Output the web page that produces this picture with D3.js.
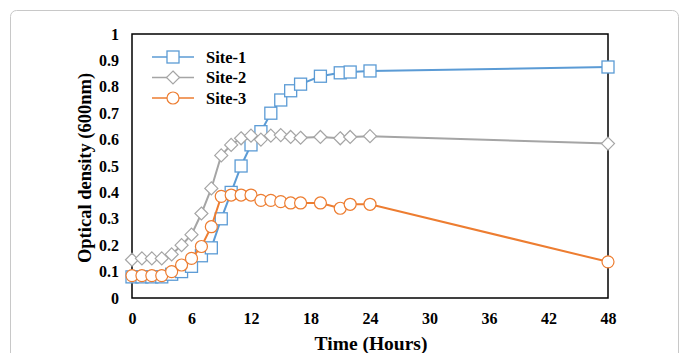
<!DOCTYPE html>
<html>
<head>
<meta charset="utf-8">
<script src="https://cdn.jsdelivr.net/npm/d3@7"></script>
<style>
  body { margin: 0; background: #fff; }
  text { font-family: "Liberation Serif", "Times New Roman", serif; font-weight: bold; }
</style>
</head>
<body>
<div id="chart"></div>
<script>
var hours = [0, 1, 2, 3, 4, 5, 6, 7, 8, 9, 10, 11, 12, 13, 14, 15, 16, 17, 19, 21, 22, 24, 48]
var site1 = [0.08, 0.08, 0.08, 0.08, 0.09, 0.10, 0.12, 0.16, 0.19, 0.30, 0.40, 0.50, 0.58, 0.63, 0.70, 0.75, 0.785, 0.81, 0.84, 0.853, 0.856, 0.86, 0.875]
var site2 = [0.145, 0.15, 0.15, 0.15, 0.165, 0.20, 0.24, 0.32, 0.415, 0.54, 0.58, 0.605, 0.615, 0.60, 0.615, 0.617, 0.61, 0.607, 0.61, 0.605, 0.61, 0.613, 0.585]
var site3 = [0.085, 0.085, 0.085, 0.085, 0.10, 0.125, 0.15, 0.195, 0.27, 0.385, 0.39, 0.39, 0.39, 0.37, 0.37, 0.365, 0.36, 0.36, 0.36, 0.34, 0.355, 0.355, 0.137]
var seriesNames = ['Site-1', 'Site-2', 'Site-3']
var seriesColors = ['#5b9bd5', '#a5a5a5', '#ed7d31']
var seriesShapes = ['square', 'diamond', 'circle']
var xTicks = [0, 6, 12, 18, 24, 30, 36, 42, 48]
var yTicks = [0, 0.1, 0.2, 0.3, 0.4, 0.5, 0.6, 0.7, 0.8, 0.9, 1]

var W = 683, H = 353
var margin = {top: 34, right: 75, bottom: 55, left: 132}
var width = W - margin.left - margin.right
var height = H - margin.top - margin.bottom

var svg = d3.select('#chart').append('svg')
  .attr('width', W)
  .attr('height', H)

// outer frame
svg.append('rect')
  .attr('x', 10.5).attr('y', 10.5)
  .attr('width', 668).attr('height', 360)
  .attr('rx', 6)
  .attr('fill', 'none')
  .attr('stroke', '#c8c8c8')
  .attr('stroke-width', 1)

var g = svg.append('g')
  .attr('transform', 'translate(' + margin.left + ',' + margin.top + ')')

var x = d3.scaleLinear().domain([0, 48]).range([0, width])
var y = d3.scaleLinear().domain([0, 1]).range([height, 0])

var xAxis = d3.axisBottom(x).tickValues(xTicks).tickSize(0).tickPadding(15).tickFormat(d3.format('d'))
var yAxis = d3.axisLeft(y).tickValues(yTicks).tickSize(0).tickPadding(13).tickFormat(function(d) { return d === 0 || d === 1 ? d : d3.format('.1f')(d) })

g.append('g')
  .attr('class', 'x axis')
  .attr('transform', 'translate(0,' + height + ')')
  .call(xAxis)
  .call(function(s) { s.select('.domain').remove() })
  .selectAll('text').attr('font-size', 16).attr('fill', '#000')

g.append('g')
  .attr('class', 'y axis')
  .call(yAxis)
  .call(function(s) { s.select('.domain').remove() })
  .selectAll('text').attr('font-size', 16).attr('fill', '#000')

g.selectAll('.axis text').style('font-family', '"Liberation Serif", serif').style('font-weight', 'bold')

// plot box
g.append('rect')
  .attr('width', width)
  .attr('height', height)
  .attr('fill', 'none')
  .attr('stroke', '#000')
  .attr('stroke-width', 1.5)

var allSeries = [site1, site2, site3].map(function(vals, i) {
  return {
    name: seriesNames[i],
    color: seriesColors[i],
    shape: seriesShapes[i],
    values: vals.map(function(v, j) { return {h: hours[j], v: v} })
  }
})

var line = d3.line().x(function(d) { return x(d.h) }).y(function(d) { return y(d.v) })

function drawMarker(sel, shape, color) {
  if (shape === 'square') {
    sel.append('rect').attr('x', -6).attr('y', -6).attr('width', 12).attr('height', 12)
      .attr('fill', '#fff').attr('stroke', color).attr('stroke-width', 1.3)
  } else if (shape === 'diamond') {
    sel.append('path').attr('d', 'M0,-6.5L6.5,0L0,6.5L-6.5,0Z')
      .attr('fill', '#fff').attr('stroke', color).attr('stroke-width', 1.2)
  } else {
    sel.append('circle').attr('r', 6)
      .attr('fill', '#fff').attr('stroke', color).attr('stroke-width', 1.2)
  }
}

allSeries.forEach(function(s) {
  g.append('path')
    .datum(s.values)
    .attr('fill', 'none')
    .attr('stroke', s.color)
    .attr('stroke-width', 2)
    .attr('d', line)
  g.append('g').selectAll('g')
    .data(s.values)
    .join('g')
    .attr('transform', function(d) { return 'translate(' + x(d.h) + ',' + y(d.v) + ')' })
    .each(function() { drawMarker(d3.select(this), s.shape, s.color) })
})

// legend
var legend = g.append('g').attr('transform', 'translate(20,23)')
allSeries.forEach(function(s, i) {
  var row = legend.append('g').attr('transform', 'translate(0,' + (i * 20.5) + ')')
  row.append('line').attr('x1', 0).attr('x2', 42).attr('stroke', s.color).attr('stroke-width', 1.3)
  var m = row.append('g').attr('transform', 'translate(21,0)')
  drawMarker(m, s.shape, s.color)
  row.append('text').attr('x', 54).attr('dy', '0.35em').attr('font-size', 16.5).text(s.name)
})

// axis titles
svg.append('text')
  .attr('x', 371)
  .attr('y', 343)
  .attr('dy', '0.35em')
  .attr('text-anchor', 'middle')
  .attr('font-size', 19.5)
  .text('Time (Hours)')

svg.append('text')
  .attr('transform', 'translate(85,' + 168 + ') rotate(-90)')
  .attr('dy', '0.35em')
  .attr('text-anchor', 'middle')
  .attr('font-size', 18.5)
  .text('Optical density (600nm)')
</script>
</body>
</html>
